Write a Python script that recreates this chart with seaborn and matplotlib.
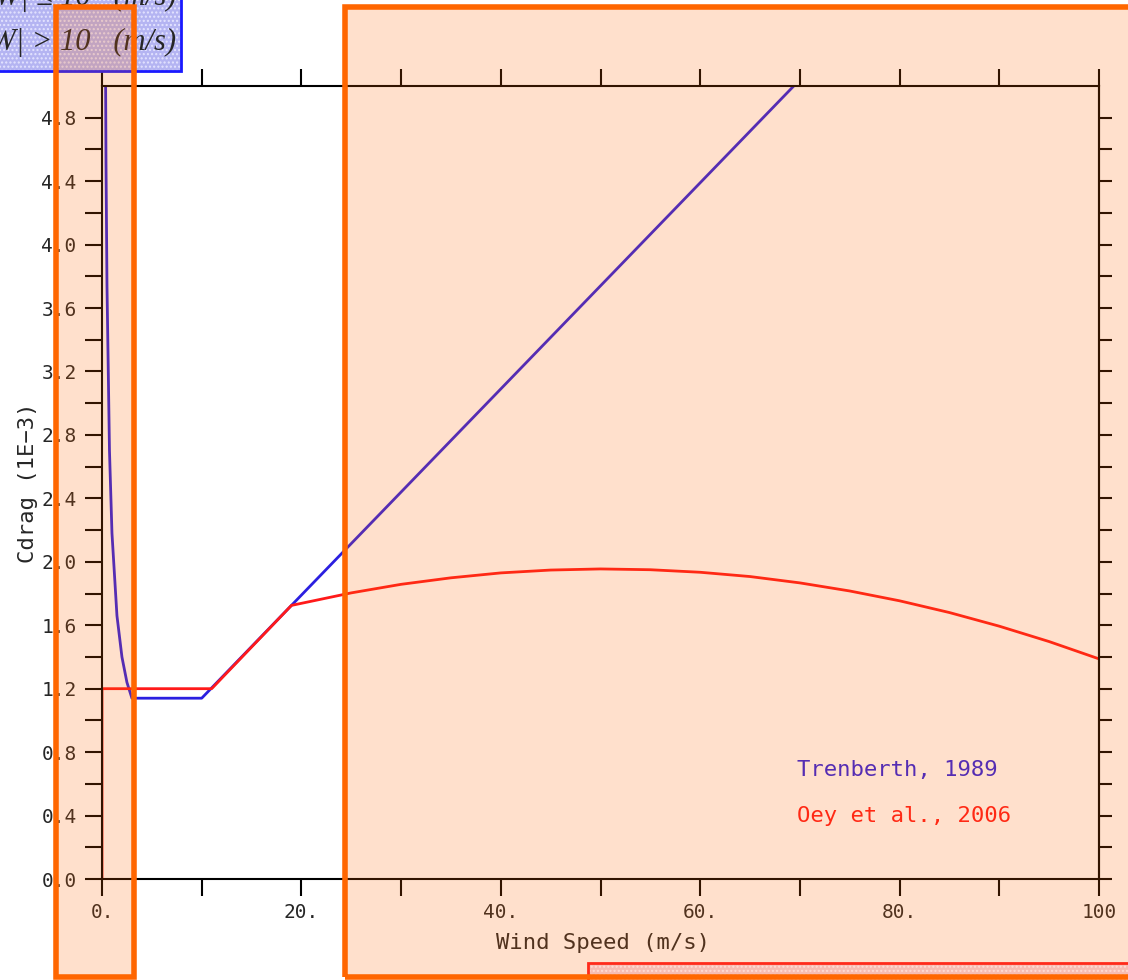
import numpy as np
import pandas as pd
import seaborn as sns
import matplotlib.pyplot as plt
from matplotlib.patches import Rectangle

# drag coefficient curves
trenberth_ws = [0.3, 0.4, 0.5, 0.75, 1.0, 1.5, 2.0, 2.5, 3.0, 10.0, 20.0, 40.0, 70.0]
trenberth_cd = [5.82, 4.52, 3.74, 2.70, 2.18, 1.66, 1.40, 1.24, 1.14, 1.14, 1.79, 3.09, 5.04]

oey_ws = [0.0, 0.0, 11.0, 19.0, 25.0, 30.0, 35.0, 40.0, 45.0, 50.0, 55.0, 60.0,
          65.0, 70.0, 75.0, 80.0, 85.0, 90.0, 95.0, 100.0]
oey_cd = [0.0, 1.2, 1.2, 1.725, 1.804, 1.858, 1.899, 1.930, 1.948, 1.955, 1.950, 1.934,
          1.907, 1.867, 1.816, 1.754, 1.680, 1.594, 1.497, 1.388]

x_major = [0, 20, 40, 60, 80, 100]
x_labels = ['0.', '20.', '40.', '60.', '80.', '100']
x_minor = [10, 30, 50, 70, 90]
y_major = [0.0, 0.4, 0.8, 1.2, 1.6, 2.0, 2.4, 2.8, 3.2, 3.6, 4.0, 4.4, 4.8]
y_minor = [0.2, 0.6, 1.0, 1.4, 1.8, 2.2, 2.6, 3.0, 3.4, 3.8, 4.2, 4.6]

BLUE = '#2b1fe0'
RED = '#ff1a1a'
ORANGE = '#ff6600'
W, H = 1128, 980

sns.set_style('white')
plt.rcParams['font.family'] = ['DejaVu Sans Mono', 'DejaVu Sans']

df_t = pd.DataFrame({'ws': trenberth_ws, 'cd': trenberth_cd})
df_o = pd.DataFrame({'ws': oey_ws, 'cd': oey_cd})

fig = plt.figure(figsize=(W / 100, H / 100), dpi=100)
ax = fig.add_axes([102 / W, (H - 879) / H, 997 / W, 793 / H])

sns.lineplot(data=df_t, x='ws', y='cd', sort=False, estimator=None, color=BLUE, lw=2, ax=ax)
sns.lineplot(data=df_o, x='ws', y='cd', sort=False, estimator=None, color=RED, lw=2, ax=ax)

ax.set_xlim(0, 100)
ax.set_ylim(0, 5.0)
for s in ax.spines.values():
    s.set_color('black')
    s.set_linewidth(1.5)

ax.set_xticks(x_major)
ax.set_xticklabels(x_labels)
ax.set_xticks(x_minor, minor=True)
ax.set_yticks(y_major)
ax.set_yticklabels([f'{v:.1f}' for v in y_major])
ax.set_yticks(y_minor, minor=True)
ax.tick_params(which='both', direction='out', length=12.2, width=1.5, color='black',
               bottom=True, top=True, left=True, right=False, labelsize=14)
ax.tick_params(axis='x', pad=5)
ax.tick_params(axis='y', pad=6)

# shorter ticks on the right side
sec = ax.secondary_yaxis('right')
sec.set_yticks(y_major + y_minor)
sec.tick_params(direction='out', length=9.4, width=1.5, color='black', labelright=False)
sec.spines['right'].set_linewidth(1.5)

ax.set_xlabel('Wind Speed (m/s)', fontsize=16)
ax.set_ylabel('Cdrag (1E\u22123)', fontsize=16)
ax.xaxis.set_label_coords(0.5025, -0.068)
ax.yaxis.set_label_coords(-0.064, 0.5)

ax.text(0.697, 0.137, 'Trenberth, 1989', color=BLUE, fontsize=16, transform=ax.transAxes, va='center')
ax.text(0.697, 0.079, 'Oey et al., 2006', color=RED, fontsize=16, transform=ax.transAxes, va='center')


def fig_rect(x0, y0, x1, y1, **kw):
    # pixel box (from top-left) -> figure fraction rectangle
    r = Rectangle((x0 / W, 1 - y1 / H), (x1 - x0) / W, (y1 - y0) / H,
                  transform=fig.transFigure, **kw)
    fig.add_artist(r)
    return r


# blue formula box in the upper left corner
fig_rect(-5, -5, 181, 71, facecolor='#b4b4f2', edgecolor='#e4e4ff', hatch='....', lw=0, zorder=5)
fig_rect(-5, -5, 181, 71, fill=False, edgecolor='#1a1aff', lw=2, zorder=6)
fig.text(176 / W, 1 - 50 / H, '|W| > 10   (m/s)', family='Liberation Serif', style='italic',
         fontsize=22, ha='right', va='baseline', zorder=7)
fig.text(176 / W, 1 - 5 / H, '3 \u2264 |W| \u2264 10   (m/s)', family='Liberation Serif', style='italic',
         fontsize=22, ha='right', va='baseline', zorder=7)

# orange highlight boxes (fill first, outline later on top of the red box)
boxes = [(56, 134), (345, 1160)]
for x0, x1 in boxes:
    fig_rect(x0, 7, x1, 977, facecolor=(1, 0.4, 0, 0.2), lw=0, zorder=8)

# red box at the bottom edge
fig_rect(588, 963, 1140, 1000, facecolor='#f7bcb2', edgecolor='#ffdcd4', hatch='....', lw=0, zorder=9)
fig_rect(588, 963, 1140, 1000, fill=False, edgecolor='#ff2a1a', lw=2, zorder=9)

for x0, x1 in boxes:
    fig_rect(x0, 7, x1, 977, fill=False, edgecolor=ORANGE, lw=4, zorder=10)

fig.savefig('out.png', dpi=100)
